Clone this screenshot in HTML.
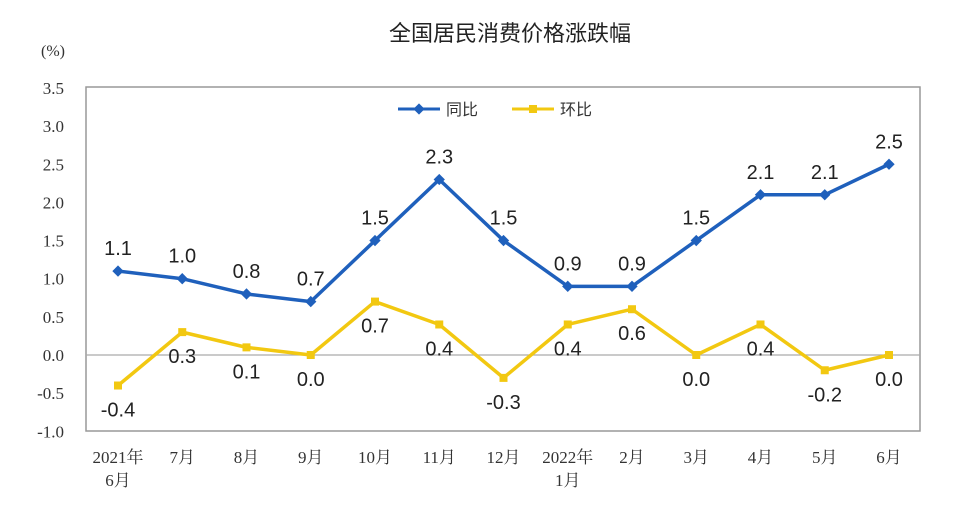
<!DOCTYPE html>
<html><head><meta charset="utf-8"><style>
body{margin:0;background:#fff;}
.serif{font-family:"Liberation Serif","Noto Serif CJK SC",serif;}
.sans{font-family:"Liberation Sans","Noto Sans CJK SC",sans-serif;}
</style></head><body>
<svg width="956" height="519" xmlns="http://www.w3.org/2000/svg">
<text class="sans" x="510" y="41" text-anchor="middle" font-size="22" fill="#222">全国居民消费价格涨跌幅</text>
<text class="serif" x="53" y="56" text-anchor="middle" font-size="16" fill="#333">(%)</text>
<rect x="86" y="87" width="834" height="344" fill="none" stroke="#999" stroke-width="1.5"/>
<g id="yaxis"></g><g id="xaxis"></g><g id="series"></g>
<g>
<line x1="398" y1="109" x2="440" y2="109" stroke="#1f60bc" stroke-width="3"/>
<rect x="415" y="105" width="8" height="8" fill="#1f60bc" transform="rotate(45 419 109)"/>
<text class="sans" x="446" y="115" font-size="16" fill="#333">同比</text>
<line x1="512" y1="109" x2="554" y2="109" stroke="#f2c811" stroke-width="3"/>
<rect x="529" y="105" width="8" height="8" fill="#f2c811"/>
<text class="sans" x="560" y="115" font-size="16" fill="#333">环比</text>
</g>
</svg>
<script>
const categories=["2021年|6月","7月","8月","9月","10月","11月","12月","2022年|1月","2月","3月","4月","5月","6月"];
const yoy=[1.1,1.0,0.8,0.7,1.5,2.3,1.5,0.9,0.9,1.5,2.1,2.1,2.5];
const mom=[-0.4,0.3,0.1,0.0,0.7,0.4,-0.3,0.4,0.6,0.0,0.4,-0.2,0.0];
const yTicks=[3.5,3.0,2.5,2.0,1.5,1.0,0.5,0.0,-0.5,-1.0];
const NS="http://www.w3.org/2000/svg";
function y(v){return 355-v*76.3;}
function x(i){return 118+i*64.25;}
function mk(tag,attrs,parent,text){const e=document.createElementNS(NS,tag);for(const k in attrs)e.setAttribute(k,attrs[k]);if(text!==undefined)e.textContent=text;parent.appendChild(e);return e;}
const ya=document.getElementById("yaxis"),xa=document.getElementById("xaxis"),se=document.getElementById("series");
yTicks.forEach(t=>{
  const e=mk("text",{class:"serif",x:64,y:y(t)+6,"text-anchor":"end","font-size":17,fill:"#333"},ya,t.toFixed(1));
  
  
});
const zl=mk("line",{x1:86,x2:920,y1:y(0),y2:y(0),stroke:"#aaa","stroke-width":1.2},ya);


categories.forEach((c,i)=>{
  const parts=c.split("|");
  parts.forEach((p,j)=>{
    const e=mk("text",{class:"serif",x:x(i),y:463+j*23,"text-anchor":"middle","font-size":17,fill:"#333"},xa,p);
    
    
  });
});
function drawSeries(vals,color,name,diamond,above){
  const pl=mk("polyline",{points:vals.map((v,i)=>x(i)+","+y(v)).join(" "),fill:"none",stroke:color,"stroke-width":3.5,"stroke-linejoin":"round"},se);
  
  
  vals.forEach((v,i)=>{
    const m=mk("rect",{x:x(i)-4,y:y(v)-4,width:8,height:8,fill:color},se);
    if(diamond)m.setAttribute("transform","rotate(45 "+x(i)+" "+y(v)+")");
    
    
    const ly=above?y(v)-16:y(v)+31;
    const t=mk("text",{class:"sans",x:x(i),y:ly,"text-anchor":"middle","font-size":20,fill:"#222"},se,v.toFixed(1));
    
    
  });
}
drawSeries(yoy,"#1f60bc","yoy",true,true);
drawSeries(mom,"#f2c811","mom",false,false);
</script>
</body></html>
